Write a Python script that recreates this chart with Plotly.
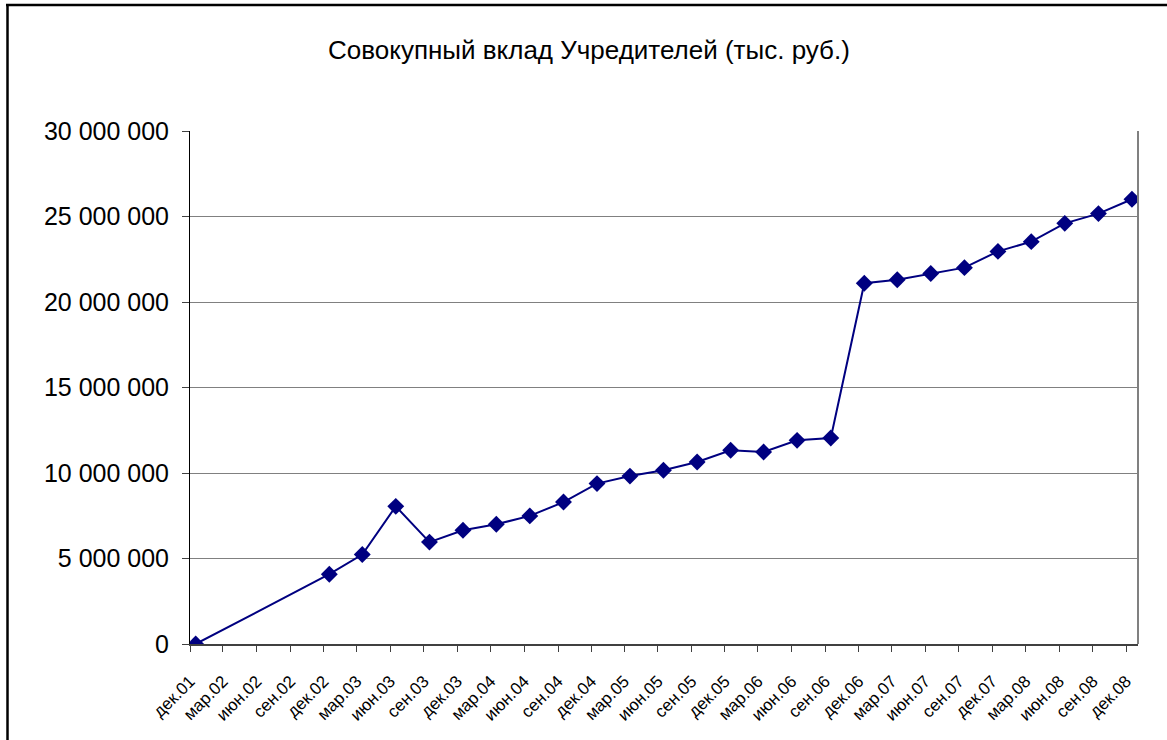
import plotly.graph_objects as go

# Data
title_text = "Совокупный вклад Учредителей (тыс. руб.)"
dates = ["2001-12-01", "2002-12-01", "2003-03-01", "2003-06-01", "2003-09-01",
         "2003-12-01", "2004-03-01", "2004-06-01", "2004-09-01", "2004-12-01",
         "2005-03-01", "2005-06-01", "2005-09-01", "2005-12-01", "2006-03-01",
         "2006-06-01", "2006-09-01", "2006-12-01", "2007-03-01", "2007-06-01",
         "2007-09-01", "2007-12-01", "2008-03-01", "2008-06-01", "2008-09-01",
         "2008-12-01"]
values = [0, 4080000, 5230000, 8050000, 5960000,
          6650000, 7000000, 7490000, 8300000, 9380000,
          9820000, 10160000, 10640000, 11330000, 11230000,
          11910000, 12050000, 21100000, 21300000, 21670000,
          22010000, 22960000, 23530000, 24600000, 25170000,
          26010000]
tick_dates = ["2001-12-01", "2002-03-01", "2002-06-01", "2002-09-01", "2002-12-01",
              "2003-03-01", "2003-06-01", "2003-09-01", "2003-12-01", "2004-03-01",
              "2004-06-01", "2004-09-01", "2004-12-01", "2005-03-01", "2005-06-01",
              "2005-09-01", "2005-12-01", "2006-03-01", "2006-06-01", "2006-09-01",
              "2006-12-01", "2007-03-01", "2007-06-01", "2007-09-01", "2007-12-01",
              "2008-03-01", "2008-06-01", "2008-09-01", "2008-12-01"]
tick_labels = ["дек.01", "мар.02", "июн.02", "сен.02", "дек.02",
               "мар.03", "июн.03", "сен.03", "дек.03", "мар.04",
               "июн.04", "сен.04", "дек.04", "мар.05", "июн.05",
               "сен.05", "дек.05", "мар.06", "июн.06", "сен.06",
               "дек.06", "мар.07", "июн.07", "сен.07", "дек.07",
               "мар.08", "июн.08", "сен.08", "дек.08"]
y_tickvals = [0, 5000000, 10000000, 15000000, 20000000, 25000000, 30000000]
y_ticktext = ["0", "5 000 000", "10 000 000", "15 000 000", "20 000 000",
              "25 000 000", "30 000 000"]

FONT = "Arial, 'Liberation Sans', sans-serif"
NAVY = "#000080"

# body margin is removed in the page, so figure coords = page coords
L, R_EDGE, T, B_EDGE = 190, 1138, 131, 644
W, H = 1167, 740
PW, PH = R_EDGE - L, B_EDGE - T

fig = go.Figure()
fig.add_trace(go.Scatter(
    x=dates, y=values,
    xperiod="M1", xperiodalignment="middle",
    mode="lines+markers",
    line=dict(color=NAVY, width=2),
    marker=dict(symbol="diamond", size=13, color=NAVY),
    showlegend=False,
    hoverinfo="x+y",
))

fig.update_layout(
    width=W, height=H,
    margin=dict(l=L, r=W - R_EDGE, t=T, b=H - B_EDGE),
    paper_bgcolor="white", plot_bgcolor="white",
    font=dict(family=FONT, color="black"),
    showlegend=False,
)

fig.update_xaxes(
    type="date",
    range=["2001-12-01", "2009-01-02"],
    tickvals=tick_dates, ticktext=tick_labels,
    tickangle=-45,
    tickfont=dict(size=17, family=FONT, color="black"),
    ticks="outside", ticklen=6, tickcolor="#404040", tickwidth=1,
    ticklabelstandoff=13,
    showline=True, linecolor="#404040", linewidth=1.5,
    showgrid=False, zeroline=False,
)
fig.update_yaxes(
    range=[0, 30000000],
    tickvals=y_tickvals, ticktext=y_ticktext,
    tickfont=dict(size=25, family=FONT, color="black"),
    ticks="outside", ticklen=7, tickcolor="#404040", tickwidth=1,
    ticklabelstandoff=8,
    showline=True, linecolor="black", linewidth=1,
    showgrid=True, gridcolor="#808080", gridwidth=1.2,
    zeroline=False,
)

def px_x(px):
    return (px - L) / PW

def px_y(py):
    return (B_EDGE - py) / PH

# Title
fig.add_annotation(
    text=title_text, xref="paper", yref="paper",
    x=px_x(589), y=px_y(50),
    xanchor="center", yanchor="middle", showarrow=False,
    font=dict(size=26, family=FONT, color="black"),
)

# Right border of plot area
fig.add_shape(type="line", xref="paper", yref="paper",
              x0=1, x1=1, y0=0, y1=1, line=dict(color="#808080", width=2))
# Outer frame (top and left edges)
fig.add_shape(type="line", xref="paper", yref="paper",
              x0=px_x(6), x1=px_x(1175),
              y0=px_y(5), y1=px_y(5),
              line=dict(color="black", width=2.5))
fig.add_shape(type="line", xref="paper", yref="paper",
              x0=px_x(7.5), x1=px_x(7.5),
              y0=px_y(4), y1=px_y(745),
              line=dict(color="black", width=2.5))

fig.write_html("out.html",
               config={"displayModeBar": False},
               post_script="document.body.style.margin='0';document.body.style.overflow='hidden';")
